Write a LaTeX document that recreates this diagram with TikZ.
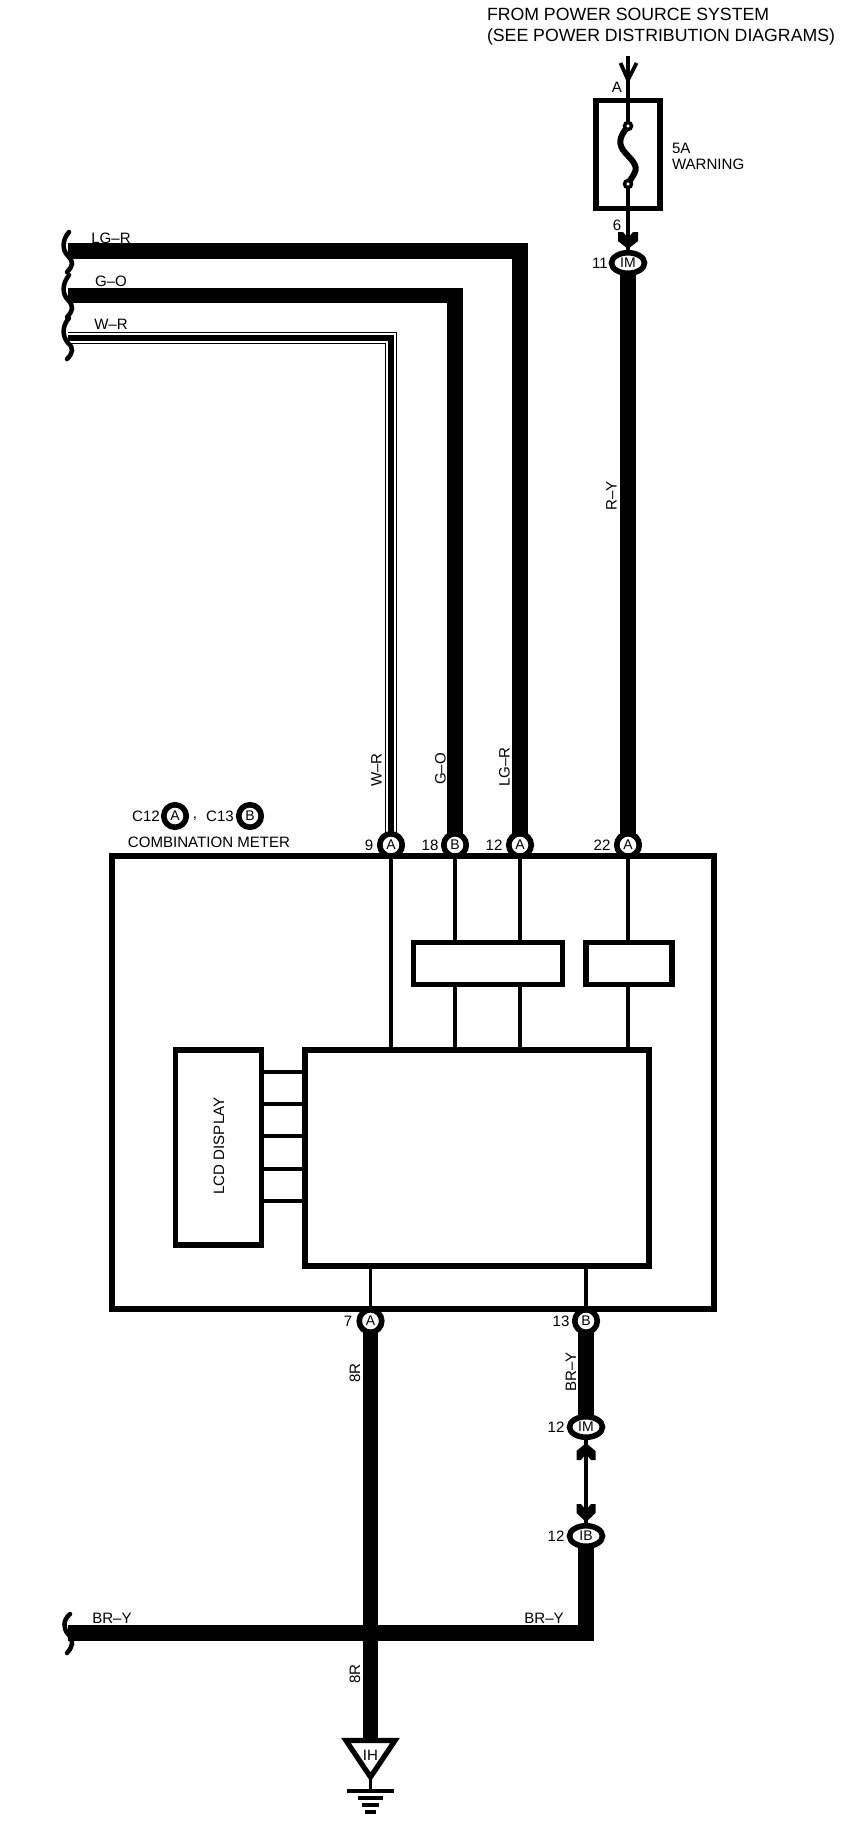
\documentclass[tikz,border=0pt]{standalone}
\usepackage{fontspec}
\setmainfont{Liberation Sans}
\pgfdeclarelayer{bg}
\pgfsetlayers{bg,main}
\newcommand{\px}[1]{#1*0.75pt}
\tikzset{
  x=0.75pt,y=-0.75pt,
  lbl/.style={font=\fontsize{11.3}{12}\selectfont,inner sep=0pt,outer sep=0pt},
  toplbl/.style={font=\fontsize{13.27}{15.75}\selectfont,inner sep=0pt,outer sep=0pt,align=left},
  wirethick/.style={line width=11.8pt,line join=miter,line cap=butt},
  wirethin/.style={line width=2.6pt,line cap=butt},
  boxheavy/.style={draw,line width=3.9pt,rectangle,inner sep=0pt,outer sep=0pt,fill=none},
  pinround/.style={draw,line width=4.2pt,circle,fill=white,minimum size=\px{22.5},inner sep=0pt,outer sep=0pt,font=\fontsize{10.5}{11}\selectfont},
  pinoval/.style={draw,line width=4.2pt,ellipse,fill=white,minimum width=\px{33},minimum height=\px{20.5},inner sep=0pt,outer sep=0pt,font=\fontsize{10.5}{11}\selectfont},
  brace/.style={line width=3.4pt,line cap=round},
  chevron/.style={fill=black,draw=none},
}
\usetikzlibrary{shapes.geometric}
\begin{document}
\begin{tikzpicture}
\useasboundingbox (0,0) rectangle (864,1842);
\begin{pgfonlayer}{bg}
  \fill[white] (0,0) rectangle (864,1842);
\end{pgfonlayer}

% ---- free wire ends
\coordinate (lgrEnd) at (68,251);
\coordinate (goEnd) at (68,295.5);
\coordinate (wrEnd) at (68,338);
\coordinate (bryEnd) at (68,1633);
\coordinate (feedTop) at (628,56);
\coordinate (gndTop) at (370.5,1740.5);

% ---- boxes
\node[boxheavy,minimum width=\px{64},minimum height=\px{108}] (fuse) at (628,154.5) {};
\node[boxheavy,minimum width=\px{148.5},minimum height=\px{42}] (bufA) at (488,963.5) {};
\node[boxheavy,minimum width=\px{86},minimum height=\px{42}] (bufB) at (629,963.5) {};
\node[boxheavy,minimum width=\px{344},minimum height=\px{216}] (block) at (477,1158) {};
\node[boxheavy,minimum width=\px{86.5},minimum height=\px{195}] (lcd) at (218.5,1147.5) {};
\node[lbl,rotate=90] (lcdtext) at (219,1146) {LCD DISPLAY};

% ---- connector pins
\node[pinoval] (imTop) at (628,263) {IM};
\node[pinround] (c9) at (391,845) {A};
\node[pinround] (c18) at (455,845) {B};
\node[pinround] (c12) at (520,845) {A};
\node[pinround] (c22) at (628,845) {A};
\node[pinround] (c7) at (370.5,1321) {A};
\node[pinround] (c13) at (586,1321) {B};
\node[pinoval] (imLow) at (586,1427) {IM};
\node[pinoval] (ib) at (586,1536) {IB};
\node[pinround] (legA) at (175,816) {A};
\node[pinround] (legB) at (250,816) {B};

\node[boxheavy,minimum width=\px{602},minimum height=\px{453}] (meter) at (413,1082.5) {};

% ---- wires, under the pins
\begin{pgfonlayer}{bg}
  \draw[wirethick] (lgrEnd) -| (c12.center);
  \draw[wirethick] (goEnd) -| (c18.center);
  \draw[line width=9.4pt,line join=miter] (wrEnd) -| (c9.center);
  \draw[white,line width=7.9pt,line join=miter] (wrEnd) -| (c9.center);
  \draw[line width=4.5pt,line join=miter] (wrEnd) -| (c9.center);
  \draw[wirethick] (imTop.center) -- (c22.center);
  \draw[wirethick] (c7.center) -- (gndTop);
  \draw[wirethick] (c13.center) -- (imLow.center);
  \draw[wirethick] (ib.center) |- (bryEnd);
  % fine wires
  \draw[wirethin] (feedTop) -- (fuse.north);
  \draw[wirethin] (fuse.north) -- (628,125);
  \draw[wirethin] (628,183) -- (fuse.south);
  \draw[wirethin] (fuse.south) -- (imTop.north);
  \draw[wirethin] (imLow.south) -- (ib.north);
\end{pgfonlayer}

\draw[wirethin] (c9.center |- meter.north) -- (c9.center |- block.north);
\draw[wirethin] (c18.center |- meter.north) -- (c18.center |- bufA.north);
\draw[wirethin] (c18.center |- bufA.south) -- (c18.center |- block.north);
\draw[wirethin] (c12.center |- meter.north) -- (c12.center |- bufA.north);
\draw[wirethin] (c12.center |- bufA.south) -- (c12.center |- block.north);
\draw[wirethin] (c22.center |- meter.north) -- (c22.center |- bufB.north);
\draw[wirethin] (c22.center |- bufB.south) -- (c22.center |- block.north);
\draw[wirethin] (block.south -| c7.center) -- (meter.south -| c7.center);
\draw[wirethin] (block.south -| c13.center) -- (meter.south -| c13.center);

\foreach \yy in {1071.7,1104,1136.3,1168.7,1201.3}
  \draw[line width=2.9pt] (lcd.east |- 0,\yy) -- (block.west |- 0,\yy);

% ---- fuse element
\draw[line width=4.5pt] (628,126) .. controls (622,134) and (617,141) .. (623,150) .. controls (629,158) and (640,165) .. (634,174) .. controls (632,178) and (630,180) .. (628,184);
\node[draw,line width=2.6pt,circle,fill=white,minimum size=\px{7},inner sep=0pt] (fuseA) at (628,126) {};
\node[draw,line width=2.6pt,circle,fill=white,minimum size=\px{7},inner sep=0pt] (fuseB) at (628,184) {};

% ---- arrow heads
\draw[line width=2.8pt,line join=miter] (620.5,63) -- (628,80) -- (636.5,63);
\fill[chevron] (618,232) -- (623,232) -- (628,238) -- (633,232) -- (638,232) -- (638,241) -- (628,249) -- (618,241) -- cycle;
\fill[chevron] (576.5,1460) -- (581,1460) -- (586,1454) -- (591,1460) -- (595.5,1460) -- (595.5,1451) -- (586,1443) -- (576.5,1451) -- cycle;
\fill[chevron] (576.5,1504) -- (581,1504) -- (586,1510) -- (591,1504) -- (595.5,1504) -- (595.5,1513) -- (586,1522) -- (576.5,1513) -- cycle;

% ---- wire break marks
\draw[brace] (69,232) .. controls (62,240) and (62,250) .. (68,256) .. controls (74,262) and (73,266) .. (67,272);
\draw[brace] (69,275) .. controls (62,284) and (62,294) .. (68,300) .. controls (74,306) and (73,311) .. (67,317);
\draw[brace] (69,318) .. controls (62,326) and (62,336) .. (68,343) .. controls (74,348) and (73,353) .. (67,359);
\draw[brace] (70,1614) .. controls (63,1620) and (63,1628) .. (68,1634) .. controls (75,1640) and (72,1648) .. (67,1653);

% ---- ground
\draw[line width=3.9pt,line join=miter] (346,1740.5) -- (395,1740.5) -- (370.5,1777) -- cycle;
\draw[line width=2.6pt] (370.5,1777) -- (370.5,1791);
\draw[line width=3pt] (347,1791) -- (394,1791);
\draw[line width=3pt] (358,1798) -- (383,1798);
\draw[line width=2.6pt] (362,1805) -- (379,1805);
\draw[line width=2.4pt] (365,1812) -- (376,1812);
\node[lbl] (gndtext) at (370.5,1755) {IH};

% ---- texts
\node[toplbl,anchor=west] (source) at (487,27) {FROM POWER SOURCE SYSTEM\\(SEE POWER DISTRIBUTION DIAGRAMS)};
\node[lbl] (pinA) at (617,87) {A};
\node[lbl,anchor=west] (amps) at (672,148) {5A};
\node[lbl,anchor=west] (warn) at (672,164) {WARNING};
\node[lbl] (pin6) at (617,225) {6};
\node[lbl] (pin11) at (600,263) {11};
\node[lbl] (wLGR) at (111,238) {LG–R};
\node[lbl] (wGO) at (111,281) {G–O};
\node[lbl] (wWR) at (111,324) {W–R};
\node[lbl,rotate=90] (wRY) at (611.5,496) {R–Y};
\node[lbl,rotate=90] (vWR) at (376.5,770) {W–R};
\node[lbl,rotate=90] (vGO) at (440.5,769) {G–O};
\node[lbl,rotate=90] (vLGR) at (504.5,767) {LG–R};
\node[lbl] (c12t) at (146,816) {C12};
\node[lbl] (commaT) at (195,819) {,};
\node[lbl] (c13t) at (220,816) {C13};
\node[lbl] (cm) at (209,842) {COMBINATION METER};
\node[lbl] (p9) at (369,845) {9};
\node[lbl] (p18) at (430,845) {18};
\node[lbl] (p12) at (494,845) {12};
\node[lbl] (p22) at (602,845) {22};
\node[lbl] (p7) at (348,1321) {7};
\node[lbl] (p13) at (561,1321) {13};
\node[lbl] (p12a) at (556,1427) {12};
\node[lbl] (p12b) at (556,1536) {12};
\node[lbl,rotate=90] (v8a) at (355,1373) {8R};
\node[lbl,rotate=90] (v8b) at (355,1674) {8R};
\node[lbl,rotate=90] (vBRY) at (571,1372) {BR–Y};
\node[lbl] (hBRa) at (112,1618) {BR–Y};
\node[lbl] (hBRb) at (544,1618) {BR–Y};
\end{tikzpicture}
\end{document}
